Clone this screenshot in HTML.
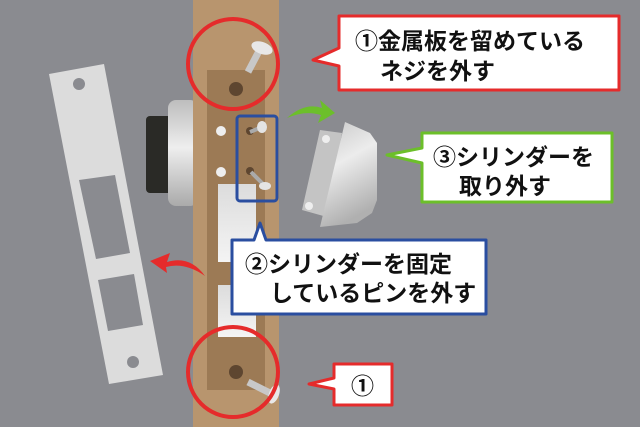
<!DOCTYPE html>
<html><head><meta charset="utf-8"><style>
html,body{margin:0;padding:0;width:640px;height:427px;overflow:hidden;background:#8a8b90}
svg{display:block}
text{font-family:"Liberation Sans","Noto Sans CJK JP",sans-serif;font-weight:bold;font-size:23px;fill:#111}
</style></head><body>
<svg width="640" height="427" viewBox="0 0 640 427">
<defs>
<linearGradient id="sv" x1="0" y1="0" x2="0" y2="1">
<stop offset="0" stop-color="#bdbdbd"/><stop offset="0.45" stop-color="#eeeeee"/><stop offset="1" stop-color="#aaaaaa"/></linearGradient>
<linearGradient id="sv2" x1="0" y1="0" x2="0.3" y2="1">
<stop offset="0" stop-color="#c8c8c8"/><stop offset="0.45" stop-color="#ececec"/><stop offset="1" stop-color="#b0b0b0"/></linearGradient>
<linearGradient id="wp" x1="0" y1="0" x2="0" y2="1">
<stop offset="0" stop-color="#dcdcdc"/><stop offset="1" stop-color="#f4f4f4"/></linearGradient>
</defs>
<rect width="640" height="427" fill="#8a8b90"/>
<path fill="#dcdcdc" fill-rule="evenodd" d="M49,74 L104,64 L163,375 L109,384 Z M79,180 L115,175 L130,253 L96,259 Z M98,280 L134,274 L143,325 L108,331 Z"/>
<circle cx="79" cy="84" r="6" fill="#8a8b90"/>
<circle cx="133" cy="362" r="6" fill="#8a8b90"/>
<rect x="146" y="116" width="28" height="77" rx="4" fill="#2a2a26"/>
<rect x="168" y="100" width="30" height="106" rx="8" fill="url(#sv)"/>
<rect x="193" y="0" width="86" height="427" fill="#b8956e"/>
<rect x="207" y="70" width="58" height="320" fill="#9c7a55"/>
<rect x="218" y="184" width="38" height="78" fill="url(#wp)"/>
<rect x="218" y="285" width="38" height="52" fill="url(#wp)"/>
<circle cx="221" cy="131" r="5" fill="#eee"/>
<circle cx="221" cy="172" r="5" fill="#eee"/>
<circle cx="236" cy="89" r="7" fill="#5e4630"/>
<circle cx="236" cy="372" r="7" fill="#5e4630"/>
<circle cx="250" cy="131" r="4" fill="#5e4630"/>
<line x1="250" y1="132" x2="262" y2="127" stroke="#aaa" stroke-width="4"/>
<ellipse cx="262" cy="127" rx="5" ry="6" fill="#e4e4e4"/>
<circle cx="250" cy="171" r="4" fill="#5e4630"/>
<line x1="251" y1="172" x2="264" y2="185" stroke="#aaa" stroke-width="4"/>
<ellipse cx="265" cy="186" rx="6" ry="4" fill="#e4e4e4"/>
<line x1="248" y1="72" x2="259" y2="51" stroke="#c8c8c8" stroke-width="7"/>
<ellipse cx="262" cy="48" rx="11" ry="6" transform="rotate(20 262 48)" fill="#e8e8e8"/>
<line x1="248" y1="382" x2="270" y2="393" stroke="#c8c8c8" stroke-width="7"/>
<ellipse cx="274" cy="394" rx="5" ry="10" transform="rotate(20 274 394)" fill="#e8e8e8"/>
<circle cx="233" cy="64" r="45" fill="none" stroke="#e52b2b" stroke-width="4"/>
<circle cx="233" cy="372" r="45" fill="none" stroke="#e52b2b" stroke-width="4"/>
<rect x="237" y="116" width="40" height="85" rx="3" fill="none" stroke="#2a4ea0" stroke-width="3"/>
<polygon points="320,130 342,133 327,217 302,210" fill="#c4c4c4"/>
<circle cx="326" cy="139" r="4" fill="#eee"/>
<circle cx="309" cy="206" r="4" fill="#eee"/>
<polygon points="345,122 370,133 377,143 377,200 372,213 357,223 320,227" fill="url(#sv2)"/>
<path d="M287,118 Q305,102 322,108 L320,100 L335,113 L318,123 L321,115 Q305,110 287,118Z" fill="#6cbf2a"/>
<path d="M205,276 Q190,255 167,262 L170,253 L150,261 L167,273 L166,267 Q185,262 205,276Z" fill="#e52b2b"/>
<path d="M339,16 H619 V90 H339 V66 L313,60 L339,48 Z" fill="#fff" stroke="#e52b2b" stroke-width="3" stroke-linejoin="round"/>
<text x="355" y="49">①金属板を留めている</text>
<text x="380" y="79">ネジを外す</text>
<path d="M422,133 H612 V202 H422 V163 L387,155 L422,148 Z" fill="#fff" stroke="#6cbf2a" stroke-width="3" stroke-linejoin="round"/>
<text x="433" y="165">③シリンダーを</text>
<text x="459" y="194">取り外す</text>
<path d="M232,240 H254 L260,223 L266,240 H486 V314 H232 Z" fill="#fff" stroke="#2a4ea0" stroke-width="3" stroke-linejoin="round"/>
<text x="245" y="272">②シリンダーを固定</text>
<text x="270" y="301">しているピンを外す</text>
<path d="M334,364 H392 V405 H334 V389 L309,384 L334,378 Z" fill="#fff" stroke="#e52b2b" stroke-width="3" stroke-linejoin="round"/>
<text x="351" y="394">①</text>
</svg>
</body></html>
